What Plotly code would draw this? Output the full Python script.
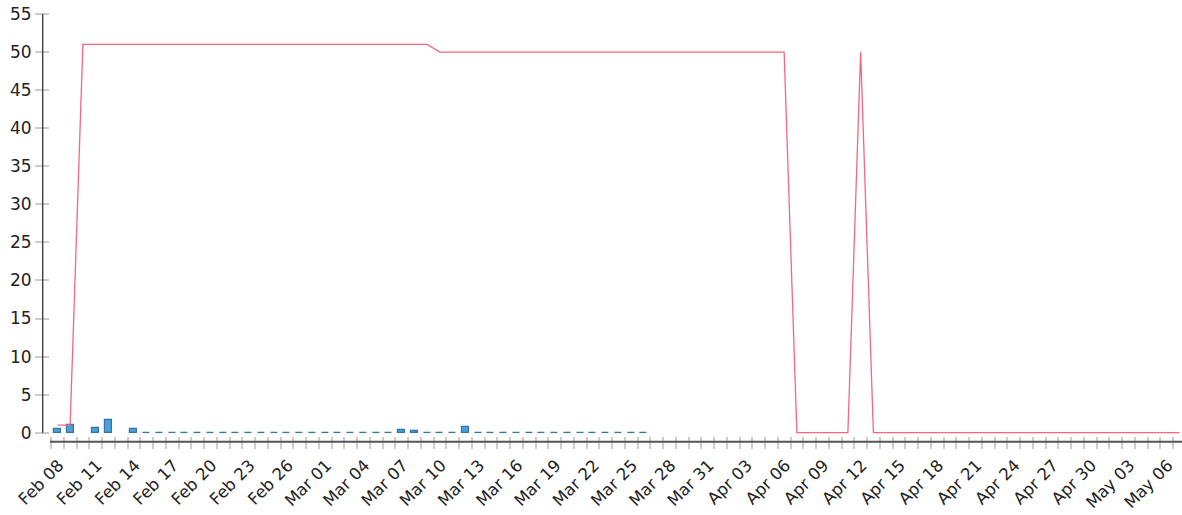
import pandas as pd
import plotly.graph_objects as go

# ---- data (daily, starting Feb 08) ----
start_date = "2023-02-08"

bar_values = [
    0.5, 1.0, None, 0.67, 1.67, None, 0.5,          # Feb 08 - Feb 14
    0, 0, 0, 0, 0, 0, 0,                            # Feb 15 - Feb 21
    0, 0, 0, 0, 0, 0, 0,                            # Feb 22 - Feb 28
    0, 0, 0, 0, 0, 0, 0.33,                         # Mar 01 - Mar 07
    0.17, 0, 0, 0, 0.7, 0, 0,                       # Mar 08 - Mar 14
    0, 0, 0, 0, 0, 0, 0,                            # Mar 15 - Mar 21
    0, 0, 0, 0, 0,                                  # Mar 22 - Mar 26
]

line_values = [
    1, 1, 51, 51, 51, 51, 51,                       # Feb 08 - Feb 14
    51, 51, 51, 51, 51, 51, 51,                     # Feb 15 - Feb 21
    51, 51, 51, 51, 51, 51, 51,                     # Feb 22 - Feb 28
    51, 51, 51, 51, 51, 51, 51,                     # Mar 01 - Mar 07
    51, 51, 50, 50, 50, 50, 50,                     # Mar 08 - Mar 14
    50, 50, 50, 50, 50, 50, 50,                     # Mar 15 - Mar 21
    50, 50, 50, 50, 50, 50, 50,                     # Mar 22 - Mar 28
    50, 50, 50, 50, 50, 50, 50,                     # Mar 29 - Apr 04
    50, 50, 0, 0, 0, 0, 0,                          # Apr 05 - Apr 11
    50, 0, 0, 0, 0, 0, 0,                           # Apr 12 - Apr 18
    0, 0, 0, 0, 0, 0, 0,                            # Apr 19 - Apr 25
    0, 0, 0, 0, 0, 0, 0,                            # Apr 26 - May 02
    0, 0, 0, 0, 0,                                  # May 03 - May 07
]

y_ticks = [0, 5, 10, 15, 20, 25, 30, 35, 40, 45, 50, 55]

bar_dates = pd.date_range(start_date, periods=len(bar_values), freq="D")
line_dates = pd.date_range(start_date, periods=len(line_values), freq="D")

# ---- geometry (pixels) ----
W, H = 1182, 515
DAY_MS = 86400000
px_per_day = 12.75
tick0 = pd.Timestamp("2023-02-07 12:00")
tick0_px = 51.0
x_left_px, x_right_px = 50.0, 1182.0
x_start = tick0 - pd.Timedelta(days=(tick0_px - x_left_px) / px_per_day)
x_end = tick0 + pd.Timedelta(days=(x_right_px - tick0_px) / px_per_day)

y_top_px, y_zero_px, y_bot_px = 14.0, 432.7, 435.7
px_per_unit = (y_zero_px - y_top_px) / 55.0
y_min = -(y_bot_px - y_zero_px) / px_per_unit

fig = go.Figure()
fig.add_trace(go.Bar(
    x=bar_dates, y=bar_values,
    width=0.56 * DAY_MS,
    marker=dict(color="#4a9fd6", line=dict(color="#3274a6", width=1.2)),
    showlegend=False,
))
fig.add_trace(go.Scatter(
    x=line_dates, y=line_values, mode="lines",
    line=dict(color="#f5667f", width=1.3),
    showlegend=False,
))

tick_color = "#cccccc"
font = dict(family="DejaVu Sans", size=17, color="#222222")

fig.update_layout(
    width=W, height=H,
    margin=dict(l=0, r=0, t=0, b=0, autoexpand=False),
    paper_bgcolor="white", plot_bgcolor="white",
    font=font,
    bargap=0,
    xaxis=dict(
        domain=[x_left_px / W, 1],
        range=[x_start, x_end],
        type="date",
        automargin=False,
        tick0="2023-02-08 12:00",
        dtick=3 * DAY_MS,
        tickformat="%b %d",
        tickangle=-45,
        ticklabelshift=-5,
        ticks="outside", ticklen=12.6, tickcolor=tick_color, tickwidth=1.5,
        tickfont=dict(family="DejaVu Sans", size=16.5, color="#222222"),
        showgrid=False, zeroline=False, showline=False,
        minor=dict(tick0="2023-02-08 12:00", dtick=DAY_MS, ticks="outside",
                   ticklen=12.6, tickcolor=tick_color, tickwidth=1.5, showgrid=False),
    ),
    yaxis=dict(
        domain=[1 - y_bot_px / H, 1 - y_top_px / H],
        range=[y_min, 55],
        automargin=False,
        tickvals=y_ticks,
        ticks="outside", ticklen=14, tickcolor=tick_color, tickwidth=1.5,
        showgrid=False, zeroline=False, showline=False,
    ),
    shapes=[
        dict(type="line", xref="paper", yref="paper",
             x0=x_left_px / W, x1=1, y0=1 - 441.7 / H, y1=1 - 441.7 / H,
             line=dict(color="#555555", width=2), layer="above"),
        dict(type="line", xref="paper", yref="y",
             x0=42.7 / W, x1=42.7 / W, y0=0, y1=55,
             line=dict(color="#333333", width=1.3), layer="above"),
    ],
)

fig.write_html("out.html", config={"displayModeBar": False},
               post_script="document.body.style.margin='0';")
